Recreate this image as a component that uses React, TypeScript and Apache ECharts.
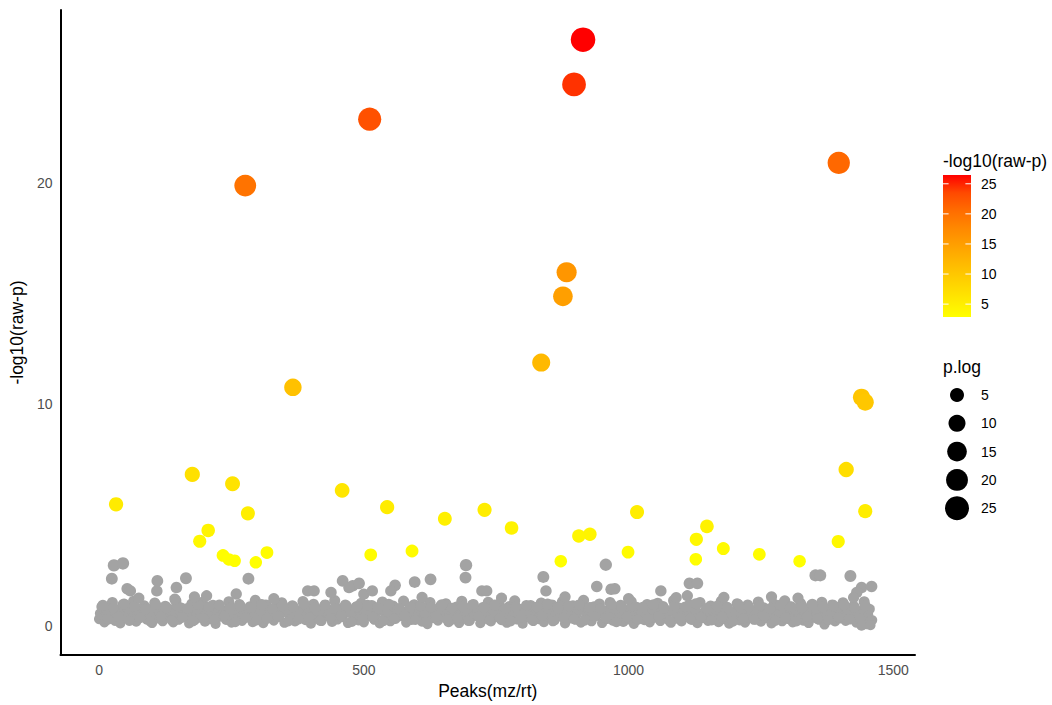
import React, { useEffect, useRef } from "react";
import * as echarts from "echarts";

// Significant peaks (coloured): x = peak index, y = -log10(raw-p)
const sigX = [914, 897, 511, 276, 1397, 883, 876, 835, 366, 1440, 1447, 1411, 1447, 32, 176, 252, 281, 206, 190, 234, 245, 256, 296, 317, 459, 513, 544, 591, 653, 728, 779, 872, 906, 927, 1016, 999, 1128, 1148, 1127, 1179, 1247, 1323, 1396];
const sigY = [26.46, 24.44, 22.87, 19.87, 20.9, 15.96, 14.87, 11.88, 10.76, 10.31, 10.09, 7.05, 5.17, 5.48, 6.83, 6.41, 5.07, 4.3, 3.81, 3.17, 2.99, 2.93, 2.86, 3.3, 6.11, 3.2, 5.35, 3.37, 4.83, 5.23, 4.41, 2.91, 4.05, 4.13, 5.13, 3.32, 3.9, 4.48, 3.0, 3.48, 3.22, 2.91, 3.8];

// Non-significant peaks (grey), the dense band; one value per 10 peaks in each list
// lower part, peaks 0, 10, 20, ...
const greyLow = [
  0.30, 0.15, 0.42, 0.22, 0.10, 0.35, 0.25, 0.18, 0.40, 0.28,
  0.12, 0.33, 0.20, 0.45, 0.15, 0.27, 0.38, 0.10, 0.24, 0.36,
  0.18, 0.30, 0.08, 0.41, 0.26, 0.14, 0.34, 0.22, 0.44, 0.16,
  0.29, 0.11, 0.37, 0.23, 0.40, 0.13, 0.31, 0.19, 0.43, 0.25,
  0.09, 0.35, 0.21, 0.46, 0.17, 0.28, 0.39, 0.12, 0.33, 0.24,
  0.15, 0.42, 0.27, 0.10, 0.36, 0.20, 0.31, 0.44, 0.14, 0.26,
  0.38, 0.18, 0.07, 0.34, 0.23, 0.41, 0.16, 0.29, 0.12, 0.37,
  0.22, 0.45, 0.11, 0.32, 0.19, 0.40, 0.25, 0.13, 0.35, 0.28,
  0.09, 0.43, 0.21, 0.30, 0.16, 0.38, 0.24, 0.42, 0.10, 0.33,
  0.27, 0.14, 0.39, 0.20, 0.46, 0.12, 0.31, 0.23, 0.36, 0.17,
  0.29, 0.08, 0.41, 0.25, 0.15, 0.37, 0.21, 0.44, 0.13, 0.32,
  0.19, 0.40, 0.26, 0.11, 0.35, 0.22, 0.43, 0.16, 0.30, 0.09,
  0.38, 0.24, 0.14, 0.42, 0.28, 0.18, 0.34, 0.10, 0.45, 0.20,
  0.31, 0.15, 0.39, 0.23, 0.12, 0.36, 0.27, 0.05, 0.41, 0.19,
  0.33, 0.22, 0.40, 0.14, 0.30, 0.06, 0.25,
];
// middle part, peaks 2, 12, 22, ...
const greyMidA = [
  0.55, 0.62, 0.48, 0.70, 0.58, 0.45, 0.66, 0.52, 0.74, 0.60,
  0.47, 0.68, 0.56, 0.63, 0.50, 0.72, 0.59, 0.46, 0.65, 0.53,
  0.71, 0.57, 0.49, 0.67, 0.61, 0.44, 0.69, 0.54, 0.64, 0.51,
  0.73, 0.58, 0.46, 0.66, 0.55, 0.62, 0.48, 0.70, 0.57, 0.52,
  0.65, 0.45, 0.68, 0.59, 0.50, 0.74, 0.56, 0.63, 0.47, 0.69,
  0.54, 0.61, 0.49, 0.72, 0.58, 0.46, 0.67, 0.53, 0.64, 0.60,
  0.48, 0.71, 0.55, 0.62, 0.45, 0.68, 0.57, 0.51, 0.73, 0.59,
  0.46, 0.66, 0.54, 0.63, 0.50, 0.70, 0.58, 0.47, 0.65, 0.56,
  0.72, 0.52, 0.61, 0.48, 0.69, 0.55, 0.64, 0.45, 0.67, 0.59,
  0.51, 0.73, 0.57, 0.46, 0.62, 0.54, 0.70, 0.49, 0.66, 0.60,
  0.47, 0.68, 0.56, 0.63, 0.52, 0.71, 0.58, 0.45, 0.65, 0.55,
  0.69, 0.50, 0.62, 0.57, 0.48, 0.74, 0.53, 0.66, 0.59, 0.46,
  0.64, 0.56, 0.70, 0.51, 0.67, 0.48, 0.61, 0.55, 0.72, 0.58,
  0.45, 0.68, 0.53, 0.63, 0.50, 0.69, 0.57, 0.47, 0.66, 0.54,
  0.62, 0.49, 0.71, 0.56, 0.60, 0.52,
];
// upper part, peaks 5, 15, 25, ...
const greyHigh = [
  0.85, 0.70, 1.05, 0.62, 0.95, 0.78, 1.10, 0.66, 0.90, 0.74,
  1.02, 0.58, 0.88, 0.72, 1.12, 0.80, 0.64, 0.98, 0.76, 1.06,
  0.60, 0.92, 0.82, 0.68, 1.08, 0.75, 0.96, 0.63, 0.86, 1.14,
  0.70, 0.94, 0.57, 0.84, 1.03, 0.73, 0.90, 0.65, 1.09, 0.79,
  0.97, 0.61, 0.87, 0.71, 1.13, 0.77, 0.93, 0.59, 0.83, 1.01,
  0.69, 0.91, 0.81, 1.07, 0.62, 0.89, 0.74, 1.11, 0.67, 0.95,
  0.80, 0.56, 1.04, 0.72, 0.88, 0.99, 0.64, 0.85, 1.10, 0.76,
  0.93, 0.60, 0.82, 1.06, 0.70, 0.97, 0.66, 0.87, 1.12, 0.73,
  0.58, 0.91, 0.79, 1.02, 0.68, 0.94, 0.84, 1.08, 0.63, 0.90,
  0.75, 1.15, 0.71, 0.86, 0.98, 0.61, 1.05, 0.78, 0.92, 0.67,
  1.09, 0.83, 0.59, 0.96, 0.74, 1.01, 0.87, 0.65, 1.13, 0.80,
  0.69, 0.95, 0.77, 1.04, 0.62, 0.89, 0.72, 1.10, 0.84, 0.57,
  0.99, 0.76, 0.93, 0.66, 1.07, 0.81, 0.70, 0.97, 0.63, 1.12,
  0.85, 0.73, 1.00, 0.60, 0.91, 0.78, 1.06, 0.68, 0.94, 0.82,
  1.03, 0.71, 0.88, 0.64, 1.08, 0.75,
];
// mixed part, peaks 7, 17, 27, ...
const greyMidB = [
  0.92, 0.28, 0.80, 0.40, 0.98, 0.22, 0.86, 0.35, 0.75, 0.18,
  0.95, 0.42, 0.83, 0.25, 0.90, 0.38, 0.78, 0.20, 0.97, 0.33,
  0.85, 0.27, 0.93, 0.44, 0.79, 0.16, 0.88, 0.36, 0.82, 0.24,
  0.96, 0.31, 0.77, 0.41, 0.91, 0.19, 0.84, 0.29, 0.99, 0.37,
  0.81, 0.23, 0.94, 0.34, 0.76, 0.43, 0.89, 0.17, 0.87, 0.30,
  0.92, 0.39, 0.80, 0.21, 0.97, 0.32, 0.78, 0.45, 0.85, 0.26,
  0.90, 0.18, 0.83, 0.40, 0.95, 0.28, 0.79, 0.35, 0.88, 0.22,
  0.96, 0.41, 0.81, 0.25, 0.93, 0.33, 0.77, 0.19, 0.86, 0.38,
  0.91, 0.27, 0.84, 0.44, 0.98, 0.20, 0.80, 0.36, 0.89, 0.30,
  0.94, 0.23, 0.82, 0.42, 0.76, 0.34, 0.97, 0.16, 0.87, 0.39,
  0.90, 0.26, 0.83, 0.31, 0.95, 0.43, 0.79, 0.21, 0.92, 0.35,
  0.85, 0.29, 0.99, 0.37, 0.78, 0.24, 0.88, 0.40, 0.81, 0.18,
  0.96, 0.32, 0.84, 0.27, 0.91, 0.45, 0.77, 0.22, 0.93, 0.36,
  0.86, 0.19, 0.80, 0.41, 0.97, 0.30, 0.83, 0.25, 0.89, 0.38,
  0.94, 0.28, 0.82, 0.33, 0.90, 0.20,
];
// grey peaks sticking out of the band
const outX = [24, 28, 45, 53, 59, 75, 110, 109, 146, 143, 164, 180, 203, 259, 282, 330, 394, 406, 438, 460, 479, 472, 491, 500, 516, 559, 551, 596, 610, 626, 693, 692, 723, 732, 760, 839, 844, 880, 957, 940, 967, 974, 1000, 1061, 1090, 1115, 1130, 1111, 1180, 1270, 1320, 1353, 1362, 1419, 1440, 1459, 1431, 1425, 1440, 1457];
const outY = [2.12, 2.72, 2.81, 1.67, 1.57, 1.25, 2.02, 1.57, 1.72, 1.2, 2.14, 1.3, 1.35, 1.43, 2.12, 1.22, 1.57, 1.57, 1.5, 2.02, 1.8, 1.72, 1.91, 1.42, 1.57, 1.82, 1.57, 1.97, 1.28, 2.09, 2.73, 2.17, 1.57, 1.57, 1.25, 2.2, 1.57, 1.3, 2.75, 1.77, 1.64, 1.67, 1.22, 1.57, 1.27, 1.91, 1.91, 1.35, 1.28, 1.3, 1.25, 2.27, 2.27, 2.24, 1.72, 1.77, 1.5, 1.27, 0.0, 0.02];

const xTicks = [0, 500, 1000, 1500];
const yTicks = [0, 10, 20];
const colorTicks = [5, 10, 15, 20, 25];
const sizeBreaks = [5, 10, 15, 20, 25];
const colorMin = 2.86;
const colorMax = 26.46;
const gradient = ["#FFFF00", "#FFE800", "#FFD100", "#FFBA00", "#FFA100", "#FF8800", "#FF6C00", "#FF4900", "#FF0000"];

const FONT = "'Liberation Sans', Arial, sans-serif";
const sizeOf = (v: number) => Math.sqrt(101 + 19 * v);

export default function App() {
  const ref = useRef<HTMLDivElement>(null);
  useEffect(() => {
    if (!ref.current) return;
    const chart = echarts.init(ref.current, undefined, { renderer: "svg" });

    const greyData: number[][] = [];
    greyLow.forEach((y, i) => greyData.push([i * 10, y]));
    greyMidA.forEach((y, i) => greyData.push([i * 10 + 2, y]));
    greyHigh.forEach((y, i) => greyData.push([i * 10 + 5, y]));
    greyMidB.forEach((y, i) => greyData.push([i * 10 + 7, y]));
    outX.forEach((x, i) => greyData.push([x, outY[i]]));
    const sigData = sigX.map((x, i) => [x, sigY[i]]);

    // legend geometry
    const barX = 943, barY = 175, barW = 28, barH = 142;
    const tickY = (v: number) => barY + barH * (1 - (v - colorMin) / (colorMax - colorMin));
    const graphics: any[] = [
      { type: "text", x: barX, y: 161, style: { text: "-log10(raw-p)", fontSize: 17.5, fontFamily: FONT, fill: "#000", verticalAlign: "middle" } },
      {
        type: "rect",
        shape: { x: barX, y: barY, width: barW, height: barH },
        style: {
          fill: new echarts.graphic.LinearGradient(0, 0, 0, 1,
            gradient.slice().reverse().map((c, i) => ({ offset: i / (gradient.length - 1), color: c }))),
        },
      },
    ];
    colorTicks.forEach((v) => {
      const y = tickY(v);
      graphics.push({ type: "line", shape: { x1: barX, y1: y, x2: barX + 5.6, y2: y }, style: { stroke: "#fff", lineWidth: 1 } });
      graphics.push({ type: "line", shape: { x1: barX + barW - 5.6, y1: y, x2: barX + barW, y2: y }, style: { stroke: "#fff", lineWidth: 1 } });
      graphics.push({ type: "text", x: 981, y, style: { text: String(v), fontSize: 14, fontFamily: FONT, fill: "#000", verticalAlign: "middle" } });
    });
    graphics.push({ type: "text", x: barX, y: 367, style: { text: "p.log", fontSize: 17.5, fontFamily: FONT, fill: "#000", verticalAlign: "middle" } });
    sizeBreaks.forEach((v, i) => {
      const y = 395 + i * 28.3;
      graphics.push({ type: "circle", shape: { cx: 957, cy: y, r: sizeOf(v) / 2 }, style: { fill: "#000" } });
      graphics.push({ type: "text", x: 981, y, style: { text: String(v), fontSize: 14, fontFamily: FONT, fill: "#000", verticalAlign: "middle" } });
    });

    const axisCommon = {
      type: "value" as const,
      splitLine: { show: false },
      axisTick: { show: false },
      axisLine: { show: true, onZero: false, lineStyle: { color: "#000", width: 2 } },
      nameLocation: "middle" as const,
      nameTextStyle: { fontSize: 17.5, color: "#000", fontFamily: FONT },
    };

    chart.setOption({
      animation: false,
      backgroundColor: "#fff",
      grid: { left: 60, right: 137, top: 10, bottom: 45 },
      xAxis: {
        ...axisCommon,
        min: -73,
        max: 1541,
        minInterval: 500,
        maxInterval: 500,
        name: "Peaks(mz/rt)",
        nameGap: 24,
        axisLabel: {
          color: "#4D4D4D", fontSize: 14, fontFamily: FONT, margin: 8,
          formatter: (v: number) => (xTicks.includes(v) ? String(v) : ""),
        },
      },
      yAxis: {
        ...axisCommon,
        min: -1.33,
        max: 27.8,
        minInterval: 10,
        maxInterval: 10,
        name: "-log10(raw-p)",
        nameGap: 29,
        axisLabel: {
          color: "#4D4D4D", fontSize: 14, fontFamily: FONT, margin: 8,
          formatter: (v: number) => (yTicks.includes(v) ? String(v) : ""),
        },
      },
      visualMap: {
        show: false,
        type: "continuous",
        seriesIndex: 1,
        dimension: 1,
        min: colorMin,
        max: colorMax,
        inRange: { color: gradient },
      },
      series: [
        {
          type: "scatter",
          data: greyData,
          symbolSize: (val: number[]) => sizeOf(val[1]),
          itemStyle: { color: "#A3A3A3", opacity: 1 },
          silent: true,
        },
        {
          type: "scatter",
          data: sigData,
          symbolSize: (val: number[]) => sizeOf(val[1]),
          itemStyle: { opacity: 1 },
          silent: true,
        },
      ],
      graphic: graphics,
    });
    return () => chart.dispose();
  }, []);
  return <div ref={ref} style={{ position: "fixed", left: 0, top: 0, width: 1052, height: 705 }} />;
}
